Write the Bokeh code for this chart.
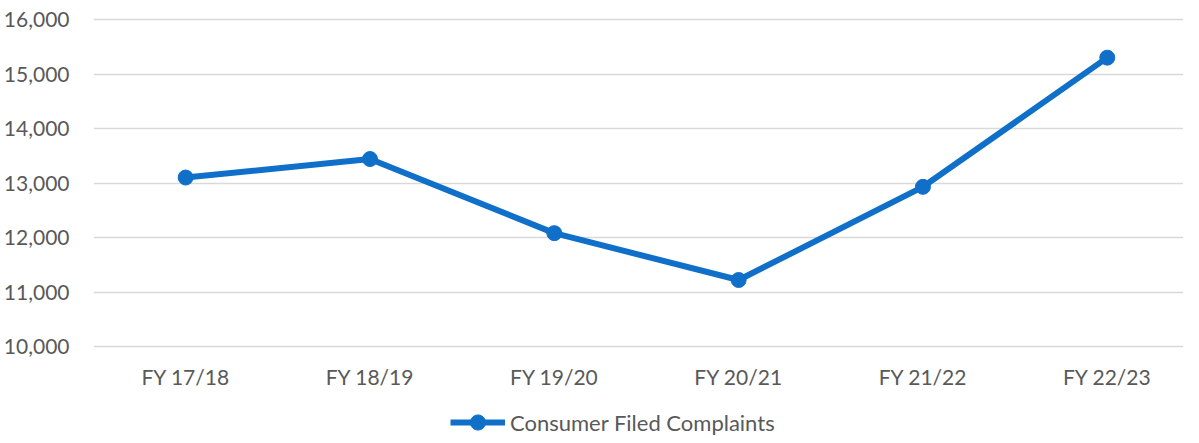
from bokeh.plotting import figure
from bokeh.models import ColumnDataSource, FixedTicker, NumeralTickFormatter, Range1d, Legend, LegendItem
from bokeh.embed import file_html
from bokeh.resources import INLINE

# ---- data ----
categories = ["FY 17/18", "FY 18/19", "FY 19/20", "FY 20/21", "FY 21/22", "FY 22/23"]
complaints = [13100, 13440, 12080, 11220, 12930, 15300]
y_ticks = [10000, 11000, 12000, 13000, 14000, 15000, 16000]
series_name = "Consumer Filed Complaints"

positions = list(range(len(categories)))
source = ColumnDataSource(data=dict(x=positions, y=complaints, cat=categories))

BLUE = "#1070C9"
GREY_TEXT = "#595959"
FONT = "Lato"
FS = "21px"

# ---- layout (pixels) ----
W, H = 1183, 435
left = 89
frame_w = W - left
step_px = 185.0
top_tick_px, bottom_tick_px = 19, 346          # canvas rows of the 16,000 and 10,000 lines
k = (bottom_tick_px - top_tick_px) / (y_ticks[-1] - y_ticks[0])
y_end = y_ticks[-1] + top_tick_px / k
y_start = y_ticks[0] - (H - bottom_tick_px) / k

p = figure(width=W, height=H, output_backend="svg", toolbar_location=None,
           x_range=Range1d(-0.5, -0.5 + frame_w / step_px),
           y_range=Range1d(y_start, y_end),
           min_border_left=left, min_border_right=0,
           min_border_top=0, min_border_bottom=0)
p.outline_line_color = None
p.background_fill_color = "white"
p.border_fill_color = "white"

line_r = p.line("x", "y", source=source, line_color=BLUE, line_width=6, line_join="round")
pt_r = p.scatter("x", "y", source=source, size=15, fill_color=BLUE, line_color=BLUE)

# axes
p.xaxis.ticker = FixedTicker(ticks=positions)
p.xaxis.major_label_overrides = {i: c for i, c in zip(positions, categories)}
p.xaxis.fixed_location = y_ticks[0]
p.yaxis.ticker = FixedTicker(ticks=y_ticks)
p.yaxis.formatter = NumeralTickFormatter(format="0,0")
for ax in (p.xaxis, p.yaxis):
    ax.axis_line_color = None
    ax.major_tick_line_color = None
    ax.minor_tick_line_color = None
    ax.major_tick_out = 0
    ax.major_tick_in = 0
    ax.major_label_text_font = FONT
    ax.major_label_text_font_size = FS
    ax.major_label_text_color = GREY_TEXT
p.yaxis.major_label_standoff = 24
p.xaxis.major_label_standoff = 17

p.xgrid.grid_line_color = None
p.ygrid.grid_line_color = "#D9D9D9"
p.ygrid.grid_line_width = 1.3

legend = Legend(items=[LegendItem(label=series_name, renderers=[line_r, pt_r])],
                location=(357, -6), orientation="horizontal",
                glyph_width=55, glyph_height=38, label_standoff=5, label_height=20,
                label_text_font=FONT, label_text_font_size="22px",
                label_text_color=GREY_TEXT, padding=0, margin=0, spacing=0,
                border_line_color=None, background_fill_alpha=0)
p.add_layout(legend, "center")

open("out.html", "w").write(file_html(p, INLINE))
